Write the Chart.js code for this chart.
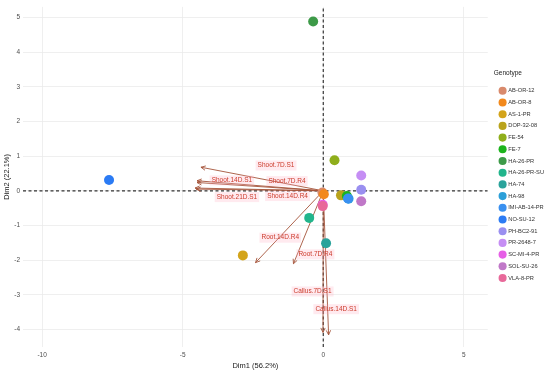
<!DOCTYPE html>
<html>
<head>
<meta charset="utf-8">
<script src="https://cdn.jsdelivr.net/npm/chart.js@4"></script>
<style>
  html, body { margin: 0; padding: 0; background: #fff; }
  #wrap { width: 550px; height: 371px; }
</style>
</head>
<body>
<div id="wrap"><canvas id="pca"></canvas></div>
<script>
// genotype scores (Dim1, Dim2)
const genotypes = ["AB-OR-12", "AB-OR-8", "AS-1-PR", "DOP-32-08", "FE-54", "FE-7", "HA-26-PR", "HA-26-PR-SU",
  "HA-74", "HA-98", "IMI-AB-14-PR", "NO-SU-12", "PH-BC2-91", "PR-2648-7", "SC-MI-4-PR", "SOL-SU-26", "VLA-8-PR"];
const genoColors = ["#d98a6c", "#f2891c", "#d3a41b", "#b9a31c", "#8fae1b", "#1cb41c", "#3d9a48", "#22b58c",
  "#2aa39b", "#2c9fd8", "#3990f0", "#2b7bf4", "#9a8ff0", "#c58ef4", "#e65fe6", "#c078c8", "#e8699a"];
const dim1 = [-0.03, 0.02, -2.86, 0.63, 0.40, 0.84, -0.36, -0.50, 0.10, 0.90, 0.88, -7.62, 1.35, 1.35, -0.02, 1.35, -0.02];
const dim2 = [-0.05, -0.10, -1.86, -0.13, 0.88, -0.15, 4.88, -0.78, -1.51, -0.23, -0.22, 0.31, 0.03, 0.44, -0.40, -0.30, -0.44];

// variable loadings (arrow tips)
const variables = ["Shoot.7D.S1", "Shoot.14D.S1", "Shoot.7D.R4", "Shoot.21D.S1", "Shoot.14D.R4",
  "Root.14D.R4", "Root.7D.R4", "Callus.7D.S1", "Callus.14D.S1"];
const varX = [-4.35, -4.49, -4.49, -4.56, -4.52, -2.41, -1.06, -0.01, 0.19];
const varY = [0.68, 0.29, 0.24, 0.08, 0.05, -2.07, -2.10, -4.08, -4.15];
// where the repelled labels sit
const labelX = [-1.68, -3.25, -1.29, -3.07, -1.27, -1.53, -0.28, -0.38, 0.46];
const labelY = [0.73, 0.30, 0.28, -0.18, -0.15, -1.35, -1.83, -2.90, -3.41];

const xTicks = [-10, -5, 0, 5];
const yTicks = [-4, -3, -2, -1, 0, 1, 2, 3, 4, 5];
const xRange = [-10.68, 5.85];
const yRange = [-4.5, 5.3];

const arrowCol = "#a5533a";
const labelCol = "#cc3b2b";
const font = "'Liberation Sans', Arial, sans-serif";

const datasets = [];
genotypes.forEach(function (g, i) {
  datasets.push({
    label: g,
    data: [{ x: dim1[i], y: dim2[i] }],
    backgroundColor: genoColors[i],
    borderWidth: 0,
    pointRadius: 5,
    order: -i, // later genotypes drawn on top, like ggplot
    isGeno: true,
  });
});
variables.forEach(function (v, i) {
  datasets.push({
    label: v,
    data: [{ x: 0, y: 0 }, { x: varX[i], y: varY[i] }],
    showLine: true,
    borderColor: arrowCol,
    borderWidth: 0.9,
    pointRadius: 0,
    order: 100,
    isArrow: true,
  });
});
// dashed reference lines through the origin
datasets.push({
  label: "h0",
  data: [{ x: xRange[0], y: 0 }, { x: xRange[1], y: 0 }],
  showLine: true, borderColor: "#333", borderWidth: 1.2, borderDash: [3, 2.5], pointRadius: 0, order: 200,
});
datasets.push({
  label: "v0",
  data: [{ x: 0, y: yRange[0] }, { x: 0, y: yRange[1] }],
  showLine: true, borderColor: "#333", borderWidth: 1.2, borderDash: [3, 2.5], pointRadius: 0, order: 200,
});

// arrowheads + variable labels, and nudge the legend a bit
const biplotDecor = {
  id: "biplotDecor",
  afterLayout(chart) {
    const lg = chart.legend;
    lg.left += 6;
    lg.right += 6;
    lg.top -= 9;
    lg.bottom -= 9;
  },
  afterDatasetsDraw(chart) {
    const ctx = chart.ctx;
    const xs = chart.scales.x, ys = chart.scales.y;
    ctx.save();
    chart.data.datasets.forEach(function (ds, di) {
      if (!ds.isArrow) return;
      const meta = chart.getDatasetMeta(di);
      const a = meta.data[0], b = meta.data[1];
      const ang = Math.atan2(b.y - a.y, b.x - a.x);
      const len = 5, spread = 0.45;
      ctx.strokeStyle = arrowCol;
      ctx.lineWidth = 0.9;
      ctx.beginPath();
      ctx.moveTo(b.x - len * Math.cos(ang - spread), b.y - len * Math.sin(ang - spread));
      ctx.lineTo(b.x, b.y);
      ctx.lineTo(b.x - len * Math.cos(ang + spread), b.y - len * Math.sin(ang + spread));
      ctx.stroke();
    });
    ctx.font = "6.5px " + font;
    ctx.textAlign = "center";
    ctx.textBaseline = "middle";
    variables.forEach(function (v, i) {
      const px = xs.getPixelForValue(labelX[i]);
      const py = ys.getPixelForValue(labelY[i]);
      const w = ctx.measureText(v).width;
      ctx.fillStyle = "rgba(255, 170, 190, 0.25)";
      ctx.fillRect(px - w / 2 - 2, py - 5, w + 4, 10);
      ctx.fillStyle = labelCol;
      ctx.fillText(v, px, py);
    });
    ctx.restore();
  },
};

new Chart(document.getElementById("pca"), {
  type: "scatter",
  data: { datasets: datasets },
  options: {
    responsive: true,
    maintainAspectRatio: false,
    animation: false,
    layout: { padding: { top: 4, right: 2, bottom: 0, left: 0 } },
    scales: {
      x: {
        min: xRange[0], max: xRange[1],
        afterBuildTicks: function (s) { s.ticks = xTicks.map(function (v) { return { value: v }; }); },
        afterFit: function (s) { s.height = 24; },
        grid: { color: "#ebebeb", lineWidth: 0.8, drawTicks: false },
        border: { display: false },
        ticks: { color: "#4d4d4d", font: { size: 6.5, family: font }, padding: 4 },
        title: { display: true, text: "Dim1 (56.2%)", color: "#1a1a1a", font: { size: 7.5, family: font }, padding: { top: 0, bottom: 1 } },
      },
      y: {
        min: yRange[0], max: yRange[1],
        afterBuildTicks: function (s) { s.ticks = yTicks.map(function (v) { return { value: v }; }); },
        afterFit: function (s) { s.width = 23; },
        grid: { color: "#ebebeb", lineWidth: 0.8, drawTicks: false },
        border: { display: false },
        ticks: { color: "#4d4d4d", font: { size: 6.5, family: font }, padding: 3 },
        title: { display: true, text: "Dim2 (22.1%)", color: "#1a1a1a", font: { size: 7.5, family: font }, padding: { top: 2, bottom: 2 } },
      },
    },
    plugins: {
      tooltip: { enabled: false },
      legend: {
        position: "right",
        align: "center",
        title: { display: true, text: "Genotype", position: "start", color: "#1a1a1a", font: { size: 6.5, family: font }, padding: { top: 0, bottom: 4 } },
        labels: {
          usePointStyle: true,
          pointStyle: "circle",
          color: "#333",
          padding: 6.0,
          font: { size: 5.7, family: font },
          filter: function (item, data) { return data.datasets[item.datasetIndex].isGeno; },
          sort: function (a, b) { return a.datasetIndex - b.datasetIndex; },
        },
      },
    },
  },
  plugins: [biplotDecor],
});
</script>
</body>
</html>
